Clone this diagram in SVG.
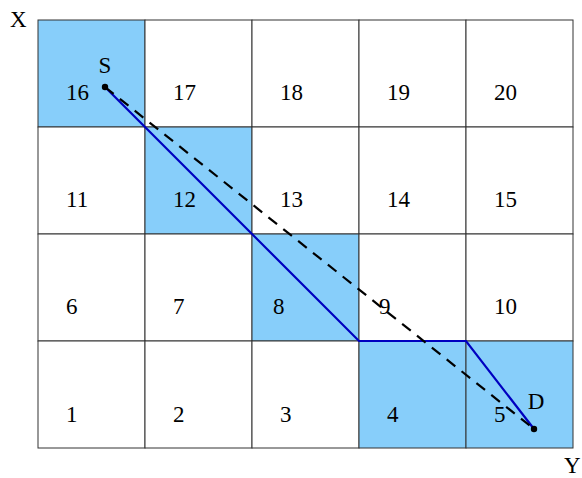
<svg xmlns="http://www.w3.org/2000/svg" width="582" height="478" viewBox="0 0 582 478">
<style>
text{font-family:"Liberation Serif","Times New Roman",serif;font-size:23px;fill:#000}
.cell{fill:#fff;stroke:#333;stroke-width:1}
.hl{fill:#87CEFA}
.path{fill:none;stroke:#0000C0;stroke-width:2.2;stroke-linejoin:miter}
.dash{fill:none;stroke:#000;stroke-width:2.2;stroke-dasharray:11,8}
</style>
<rect width="582" height="478" fill="#fff"/>
<g id="grid">
<rect class="cell hl" x="38" y="20" width="107" height="107"/>
<rect class="cell" x="145" y="20" width="107" height="107"/>
<rect class="cell" x="252" y="20" width="107" height="107"/>
<rect class="cell" x="359" y="20" width="107" height="107"/>
<rect class="cell" x="466" y="20" width="107" height="107"/>
<rect class="cell" x="38" y="127" width="107" height="107"/>
<rect class="cell hl" x="145" y="127" width="107" height="107"/>
<rect class="cell" x="252" y="127" width="107" height="107"/>
<rect class="cell" x="359" y="127" width="107" height="107"/>
<rect class="cell" x="466" y="127" width="107" height="107"/>
<rect class="cell" x="38" y="234" width="107" height="107"/>
<rect class="cell" x="145" y="234" width="107" height="107"/>
<rect class="cell hl" x="252" y="234" width="107" height="107"/>
<rect class="cell" x="359" y="234" width="107" height="107"/>
<rect class="cell" x="466" y="234" width="107" height="107"/>
<rect class="cell" x="38" y="341" width="107" height="107"/>
<rect class="cell" x="145" y="341" width="107" height="107"/>
<rect class="cell" x="252" y="341" width="107" height="107"/>
<rect class="cell hl" x="359" y="341" width="107" height="107"/>
<rect class="cell hl" x="466" y="341" width="107" height="107"/>
</g>
<g id="labels">
<text x="66" y="100">16</text><text x="173" y="100">17</text><text x="280" y="100">18</text><text x="387" y="100">19</text><text x="494" y="100">20</text>
<text x="66" y="207">11</text><text x="173" y="207">12</text><text x="280" y="207">13</text><text x="387" y="207">14</text><text x="494" y="207">15</text>
<text x="66" y="314">6</text><text x="173" y="314">7</text><text x="273" y="314">8</text><text x="379" y="314">9</text><text x="494" y="314">10</text>
<text x="66" y="422">1</text><text x="173" y="422">2</text><text x="280" y="422">3</text><text x="387" y="422">4</text><text x="494" y="422">5</text>
</g>
<g id="connectors">
<polyline class="path" points="105,87 145,127 252,234 359,341 466,341 534,429"/>
<line class="dash" x1="105" y1="87" x2="534" y2="429"/>
</g>
<g id="S"><circle cx="105" cy="87" r="3.2" fill="#000"/><text x="105" y="73" text-anchor="middle">S</text></g>
<g id="D"><circle cx="534" cy="429" r="3.2" fill="#000"/><text x="536" y="409" text-anchor="middle">D</text></g>
<g id="axes"><text x="10" y="27">X</text><text x="564" y="473">Y</text></g>
</svg>
